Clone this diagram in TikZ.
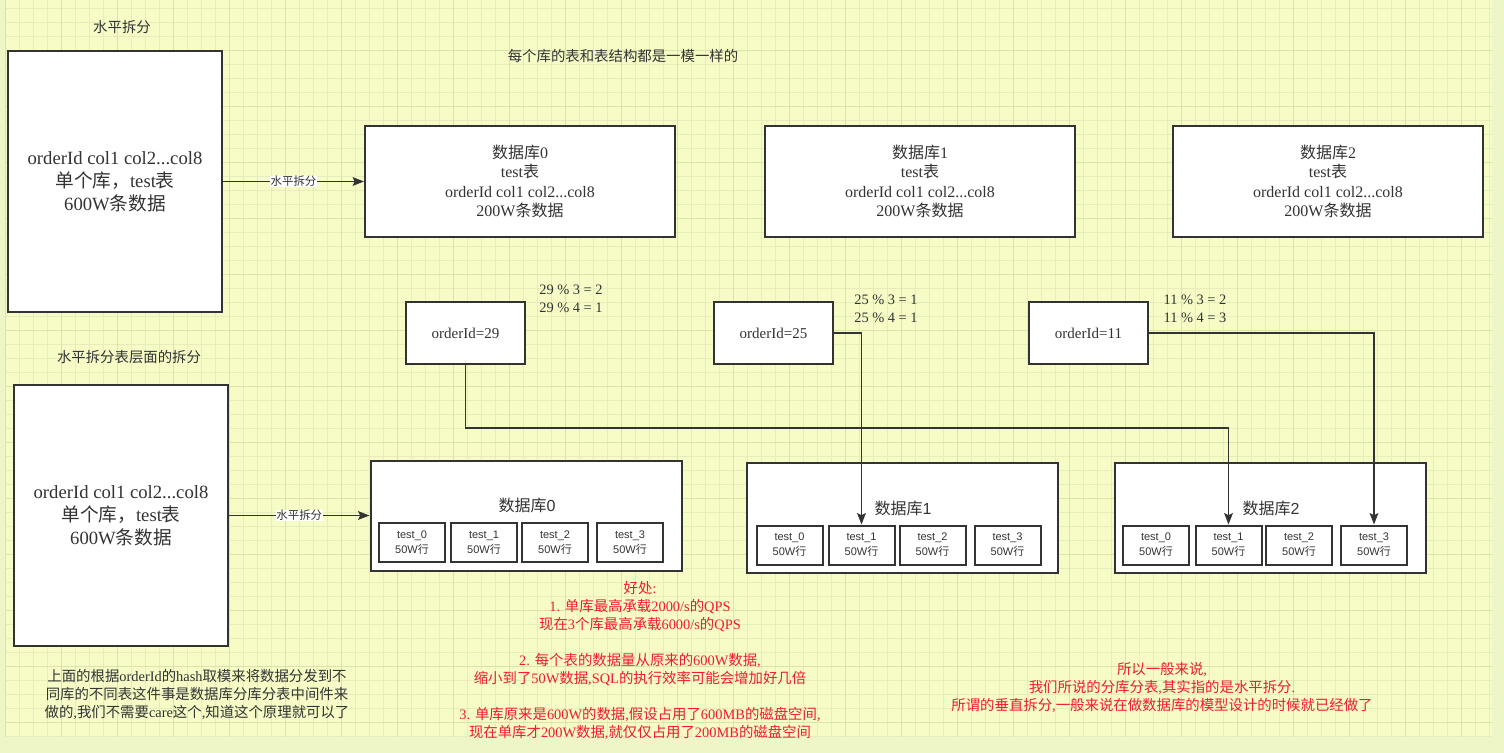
\documentclass[tikz,border=0pt]{standalone}
\usepackage{fontspec}
\setmainfont{Liberation Serif}
\setsansfont{Liberation Sans}
\newfontfamily\cjkfont{Noto Sans CJK SC}
\usetikzlibrary{arrows.meta}

% Chinese characters go to the CJK font, the rest stays Latin
\newcommand\latinback{\rmfamily}
\XeTeXinterchartokenstate=1
\newXeTeXintercharclass\hanclass
\count255="3000
\loop
  \XeTeXcharclass\count255=\hanclass
  \ifnum\count255<"9FFF \advance\count255 by 1 \repeat
\XeTeXcharclass"FF0C=\hanclass
\XeTeXcharclass"FF1A=\hanclass
\XeTeXinterchartoks 0 \hanclass = {\cjkfont}
\XeTeXinterchartoks 4095 \hanclass = {\cjkfont}
\XeTeXinterchartoks \hanclass 0 = {\latinback}
\XeTeXinterchartoks \hanclass 4095 = {\latinback}

\definecolor{inkgray}{HTML}{333333}
\definecolor{warnred}{HTML}{F01A32}
\definecolor{paper}{HTML}{F7FCC7}
\definecolor{paperedge}{HTML}{EEF6C7}
\definecolor{gridminor}{HTML}{E6EDB8}
\definecolor{gridmajor}{HTML}{DAE3A8}
\newcommand\px{0.75pt}

\begin{document}
\begin{tikzpicture}[x=0.75pt,y=-0.75pt,
    box/.style={draw=inkgray,line width=1.5pt,fill=white,inner sep=0pt,align=center,text=inkgray},
    link/.style={draw=inkgray,line width=1.1pt,-{Stealth[length=8.5pt,width=6.5pt,inset=1.5pt]}},
    plain/.style={text=inkgray,align=center,inner sep=0pt,font=\fontsize{10.8}{13.5}\selectfont},
    redtxt/.style={plain,text=warnred},
    single/.style={box,minimum width=214*\px,minimum height=261*\px,font=\fontsize{14}{17.25}\selectfont},
    dbbox/.style={box,minimum width=310*\px,minimum height=111*\px,font=\fontsize{12}{14.6}\selectfont},
    idbox/.style={box,minimum width=119*\px,minimum height=62*\px,font=\fontsize{11.25}{13.5}\selectfont},
    tblbox/.style={box,minimum width=311*\px,minimum height=110*\px},
    cell/.style={box,minimum width=66*\px,minimum height=39*\px,
      font={\sffamily\def\latinback{\sffamily}\fontsize{8.25}{11.25}\selectfont}},
    splitlabel/.style={fill=white,inner sep=0.5pt,text=inkgray,
      font={\sffamily\def\latinback{\sffamily}\fontsize{8.6}{10}\selectfont}},
    dbname/.style={text=inkgray,inner sep=0pt,
      font={\sffamily\def\latinback{\sffamily}\fontsize{12}{14}\selectfont}}]

\useasboundingbox (0,0) rectangle (1504,753);
\fill[paperedge] (0,0) rectangle (1504,753);
\fill[paper] (5,0) rectangle (1492,737);
\foreach \gx in {5,19,...,1491} \draw[gridminor,line width=0.75pt] (\gx,0) -- (\gx,737);
\foreach \gy in {8,22,...,736} \draw[gridminor,line width=0.75pt] (5,\gy) -- (1492,\gy);
\foreach \gx in {5,61,...,1491} \draw[gridmajor,line width=0.75pt] (\gx,0) -- (\gx,737);
\foreach \gy in {50,106,...,736} \draw[gridmajor,line width=0.75pt] (5,\gy) -- (1492,\gy);

% splitting the database
\node[plain] (title1) at (122,27) {水平拆分};
\node[plain] (same) at (623,56) {每个库的表和表结构都是一模一样的};
\node[single] (whole1) at (115,181.5) {orderId col1 col2...col8\\单个库，test表\\600W条数据};
\node[dbbox] (db0) at (520,181.5) {数据库0\\test表\\orderId col1 col2...col8\\200W条数据};
\node[dbbox] (db1) at (920,181.5) {数据库1\\test表\\orderId col1 col2...col8\\200W条数据};
\node[dbbox] (db2) at (1328,181.5) {数据库2\\test表\\orderId col1 col2...col8\\200W条数据};
\draw[link] (whole1.east) -- node[splitlabel] {水平拆分} (db0.west);

\node[idbox] (o29) at (465.5,333) {orderId=29};
\node[idbox] (o25) at (773.5,333) {orderId=25};
\node[idbox] (o11) at (1088.5,333) {orderId=11};
\node[plain] (m29) at (571,299) {29 \% 3 = 2\\29 \% 4 = 1};
\node[plain] (m25) at (886,309) {25 \% 3 = 1\\25 \% 4 = 1};
\node[plain] (m11) at (1195,309) {11 \% 3 = 2\\11 \% 4 = 3};

% splitting the tables
\node[plain] (title2) at (129,357) {水平拆分表层面的拆分};
\node[single] (whole2) at (121,515.5) {orderId col1 col2...col8\\单个库，test表\\600W条数据};
\node[tblbox] (tdb0) at (526,515.5) {};
\node[tblbox] (tdb1) at (902.5,518) {};
\node[tblbox] (tdb2) at (1270.5,518) {};
\node[dbname] at (527,505) {数据库0};
\node[dbname] at (903,508) {数据库1};
\node[dbname] at (1271,508) {数据库2};
\foreach \i/\cx in {0/412,1/484,2/555,3/630}
  \node[cell] (db0t\i) at (\cx,542.5) {test\_\i\\50W行};
\foreach \i/\cx in {0/789.5,1/861.5,2/932.5,3/1007.5}
  \node[cell] (db1t\i) at (\cx,545) {test\_\i\\50W行};
\foreach \i/\cx in {0/1156,1/1228.5,2/1299,3/1374}
  \node[cell] (db2t\i) at (\cx,545) {test\_\i\\50W行};
\draw[link] (whole2.east) -- node[splitlabel] {水平拆分} (tdb0.west);

\draw[link] (o29.south) -- ++(0,63) -| (db2t1.north);
\draw[link] (o25.east) -| (db1t1.north);
\draw[link] (o11.east) -| (db2t3.north);

% notes
\node[redtxt] (gain) at (640,661) {好处:\\1. 单库最高承载2000/s的QPS\\现在3个库最高承载6000/s的QPS\\[13.5pt]
  2. 每个表的数据量从原来的600W数据,\\缩小到了50W数据,SQL的执行效率可能会增加好几倍\\[13.5pt]
  3. 单库原来是600W的数据,假设占用了600MB的磁盘空间,\\现在单库才200W数据,就仅仅占用了200MB的磁盘空间};
\node[plain] (hint) at (197,695) {上面的根据orderId的hash取模来将数据分发到不\\同库的不同表这件事是数据库分库分表中间件来\\做的,我们不需要care这个,知道这个原理就可以了};
\node[redtxt] (summary) at (1162,688) {所以一般来说,\\我们所说的分库分表,其实指的是水平拆分.\\所谓的垂直拆分,一般来说在做数据库的模型设计的时候就已经做了};
\end{tikzpicture}
\end{document}
